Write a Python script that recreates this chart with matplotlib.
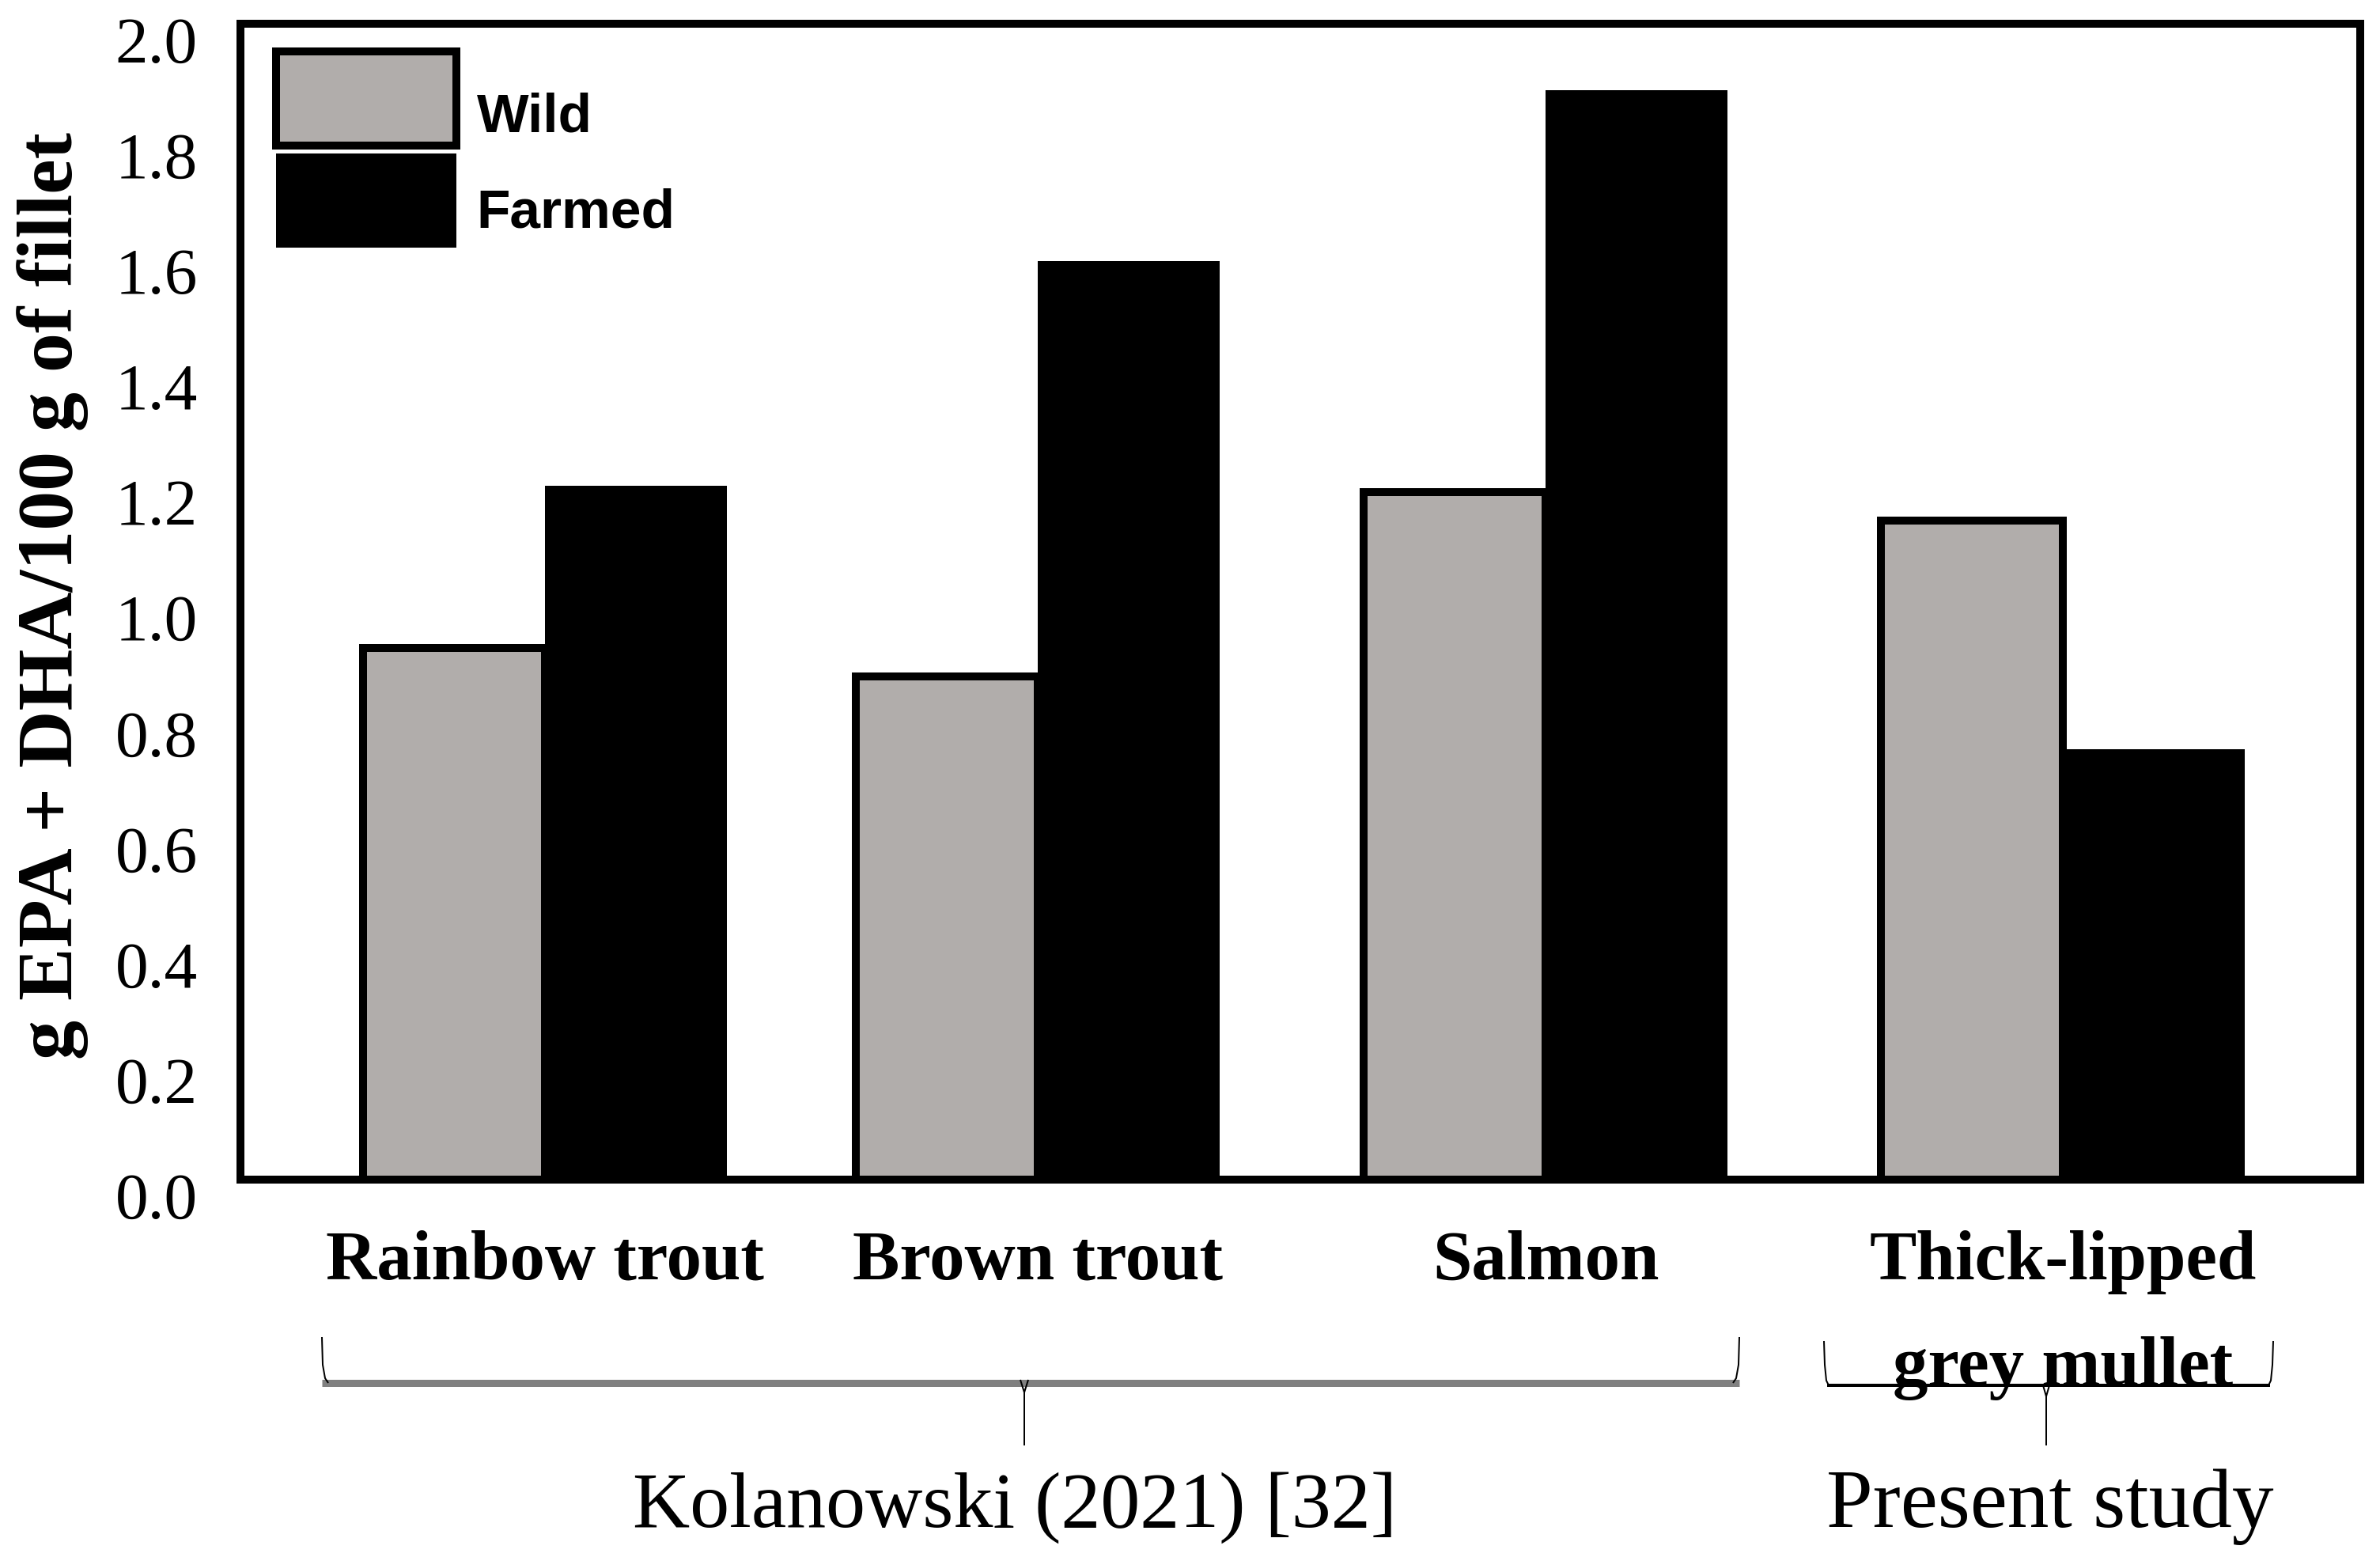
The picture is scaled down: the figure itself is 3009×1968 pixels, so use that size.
import matplotlib
matplotlib.use("Agg")
import matplotlib.pyplot as plt
from matplotlib.lines import Line2D
from matplotlib.transforms import ScaledTranslation

# ---------------- data ----------------
categories = ["Rainbow trout", "Brown trout", "Salmon", "Thick-lipped\ngrey mullet"]
wild = [0.92, 0.87, 1.19, 1.14]
farmed = [1.20, 1.59, 1.885, 0.745]
series_names = ["Wild", "Farmed"]
yticks = [0.0, 0.2, 0.4, 0.6, 0.8, 1.0, 1.2, 1.4, 1.6, 1.8, 2.0]
ylabel = "g EPA + DHA/100 g of fillet"
source_labels = ["Kolanowski (2021) [32]", "Present study"]

# ---------------- layout ----------------
W, H, DPI = 3009, 1968, 100
fig = plt.figure(figsize=(W / DPI, H / DPI), dpi=DPI)

def fx(px):
    return px / W

def fy(py):
    return 1 - py / H

ax_l, ax_r, ax_t, ax_b = 304, 2984, 30, 1491
ax = fig.add_axes([fx(ax_l), fy(ax_b), fx(ax_r) - fx(ax_l), fy(ax_t) - fy(ax_b)])

# group centre positions (pixel-like x units) and bar width
group_x = [689 - ax_l, 1312 - ax_l, 1954 - ax_l, 2608 - ax_l]
bw = 230

grey = "#B1ADAB"
serif = ["Liberation Serif", "DejaVu Serif"]
sans = ["Liberation Sans", "DejaVu Sans"]

lw_px = 10
lw = lw_px * 72 / DPI

b1 = ax.bar([x - bw / 2 for x in group_x], wild, width=bw, color=grey,
            edgecolor="black", linewidth=lw, label=series_names[0], zorder=1)
b2 = ax.bar([x + bw / 2 for x in group_x], farmed, width=bw, color="black",
            edgecolor="black", linewidth=0, label=series_names[1], zorder=1.5)

ax.set_xlim(0, ax_r - ax_l)
ax.set_ylim(0, 2.0)

for s in ax.spines.values():
    s.set_linewidth(lw)
    s.set_color("black")
    s.set_zorder(3)

ax.set_yticks(yticks)
ax.set_yticklabels([f"{v:.1f}" for v in yticks], family=serif, fontsize=60)
ax.tick_params(axis="y", length=0, pad=39)
off = ScaledTranslation(0, -20 / DPI, fig.dpi_scale_trans)
for lab in ax.get_yticklabels():
    lab.set_transform(lab.get_transform() + off)

ax.set_xticks(group_x)
ax.set_xticklabels(categories, family=serif, fontsize=64, fontweight="bold",
                   linespacing=1.85)
ax.tick_params(axis="x", length=0, pad=46)

ax.set_ylabel(ylabel, family=serif, fontsize=72, fontweight="bold")
ax.yaxis.label.set_va("center")
ax.yaxis.set_label_coords((67 - ax_l) / (ax_r - ax_l), (ax_b - 753) / (ax_b - ax_t))

# legend
leg_fs = 50
leg = ax.legend(handles=[b1, b2], labels=series_names, loc="upper left",
                bbox_to_anchor=(fx(349), fy(65)), bbox_transform=fig.transFigure,
                frameon=False, borderpad=0, borderaxespad=0,
                handlelength=3.29, handleheight=2.26, labelspacing=0.144,
                handletextpad=0.36,
                prop={"family": sans, "weight": "bold", "size": leg_fs})
for t, dy in zip(leg.get_texts(), [20, 12]):
    t.set_transform(t.get_transform() +
                    ScaledTranslation(0, -dy / DPI, fig.dpi_scale_trans))

# ---------------- grouping braces ----------------
def line(xs, ys, color="black", lwp=2):
    fig.add_artist(Line2D([fx(x) for x in xs], [fy(y) for y in ys],
                          color=color, linewidth=lwp * 72 / DPI,
                          transform=fig.transFigure, solid_capstyle="butt"))

# Kolanowski brace
line([407, 2199], [1748, 1748], color="#808080", lwp=9)
line([407, 408, 411, 415], [1690, 1725, 1742, 1748], lwp=2)
line([2199, 2198, 2195, 2191], [1690, 1725, 1742, 1748], lwp=2)
line([1290, 1295, 1300], [1744, 1760, 1744], lwp=2)
line([1295, 1295], [1760, 1827], lwp=2)

# Present study brace
line([2310, 2870], [1751, 1751], color="black", lwp=4)
line([2306, 2307, 2309, 2312], [1695, 1725, 1745, 1751], lwp=2)
line([2874, 2873, 2871, 2868], [1695, 1725, 1745, 1751], lwp=2)
line([2583, 2587, 2591], [1751, 1765, 1751], lwp=2)
line([2587, 2587], [1765, 1827], lwp=2)

fig.text(fx(1283), fy(1930), source_labels[0], family=serif, fontsize=72,
         ha="center", va="baseline")
fig.text(fx(2592), fy(1930), source_labels[1], family=serif, fontsize=76,
         ha="center", va="baseline")

fig.savefig("out.png", dpi=DPI, facecolor="white")
